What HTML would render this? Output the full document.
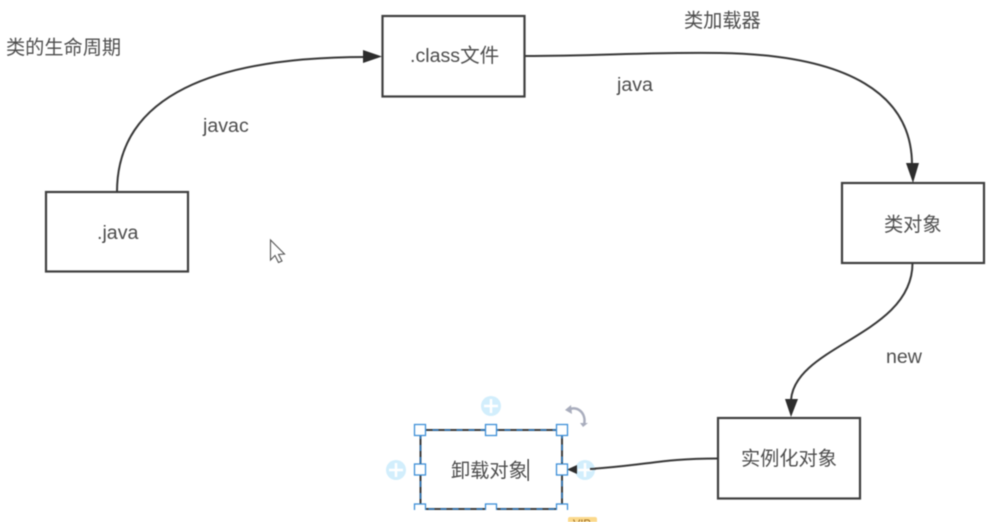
<!DOCTYPE html>
<html>
<head>
<meta charset="utf-8">
<style>
html,body{margin:0;padding:0;background:#fff;width:1000px;height:522px;overflow:hidden}
svg{display:block;filter:blur(0.5px)}
text{font-family:"Liberation Sans","Noto Sans CJK SC",sans-serif;fill:#4d4d4d;font-size:19.2px}
.l{font-size:19.6px}
.b{fill:#fff;stroke:#3f3f3f;stroke-width:2.2}
.c{fill:none;stroke:#383838;stroke-width:2}
.h{fill:#fff;stroke:#3d8fd8;stroke-width:1.3}
.p{fill:#d2eefc}
</style>
</head>
<body>
<svg width="1000" height="522" viewBox="0 0 1000 522" xmlns="http://www.w3.org/2000/svg">
<rect class="b" x="46" y="192" width="142" height="79.500"/>
<rect class="b" x="382.500" y="16" width="142" height="80.500"/>
<rect class="b" x="842" y="183" width="142" height="80"/>
<rect class="b" x="718" y="418" width="142" height="80.500"/>

<path class="c" d="M117 192C117 95 215 57 366 57"/>
<polygon fill="#2d2d2d" points="363,50 382,56.500 363,63"/>
<path class="c" d="M525 56C600 56 645 52 720 53C850 55 912 95 912 165"/>
<polygon fill="#2d2d2d" points="906,163 913,183 919,163"/>
<path class="c" d="M912.500 263C912.500 335 795 345 791 400"/>
<polygon fill="#2d2d2d" points="785,399 791,417 798,399"/>
<path class="c" d="M718 458.500C660 458.500 650 465 590 469"/>

<text x="6" y="54">类的生命周期</text>
<text x="684" y="27">类加载器</text>
<text class="l" x="203" y="132">javac</text>
<text class="l" x="617" y="91">java</text>
<text class="l" x="886" y="363">new</text>
<text class="l" x="97" y="239">.java</text>
<text class="l" x="410" y="62">.class文件</text>
<text x="884" y="231">类对象</text>
<text x="741" y="465">实例化对象</text>

<rect x="420.500" y="430" width="141.500" height="79" fill="#fff" stroke="#3a3a3a" stroke-width="2"/>
<rect x="420.500" y="430" width="141.500" height="79" fill="none" stroke="#2f86d6" stroke-width="1.300" stroke-dasharray="6 6"/>
<text x="451" y="477">卸载对象</text>
<rect x="527.500" y="459" width="1.300" height="22" fill="#333"/>

<circle class="p" cx="491" cy="406" r="10"/><path d="M491 399V413M484 406H498" stroke="#fff" stroke-width="2.500"/>
<circle class="p" cx="396" cy="470" r="10"/><path d="M396 463V477M389 470H403" stroke="#fff" stroke-width="2.500"/>
<circle class="p" cx="585" cy="470" r="10"/><path d="M585 463V477M578 470H592" stroke="#fff" stroke-width="2.500"/>
<path d="M590 469L596 468.700" class="c"/>
<polygon fill="#2d2d2d" points="567,469.500 577,465 577,474"/>

<rect class="h" x="414.500" y="424.500" width="11" height="11"/>
<rect class="h" x="485.500" y="424.500" width="11" height="11"/>
<rect class="h" x="556.500" y="424.500" width="11" height="11"/>
<rect class="h" x="414.500" y="464" width="11" height="11"/>
<rect class="h" x="556.500" y="464" width="11" height="11"/>
<rect class="h" x="414.500" y="504" width="11" height="11"/>
<rect class="h" x="485.500" y="504" width="11" height="11"/>
<rect class="h" x="556.500" y="504" width="11" height="11"/>
<rect x="410" y="510" width="162" height="7" fill="#fff"/>

<path d="M568 410C576 405 587 412 584 425" fill="none" stroke="#a9adbd" stroke-width="2.500"/>
<polygon fill="#a9adbd" points="565,410 571,405 572,414"/>
<polygon fill="#a9adbd" points="580,423 588,423 583,427"/>

<rect x="568" y="517" width="29" height="8" rx="2" fill="#fbd98c"/>
<text x="573" y="527" style="font-size:11px;fill:#9a6a20">VIP</text>

<path d="M270.500 240V260L275 255.500L278.500 262.500L282 261L278.500 254.500L284.500 254Z" fill="#fff" stroke="#555" stroke-width="1.100"/>
</svg>
</body>
</html>
